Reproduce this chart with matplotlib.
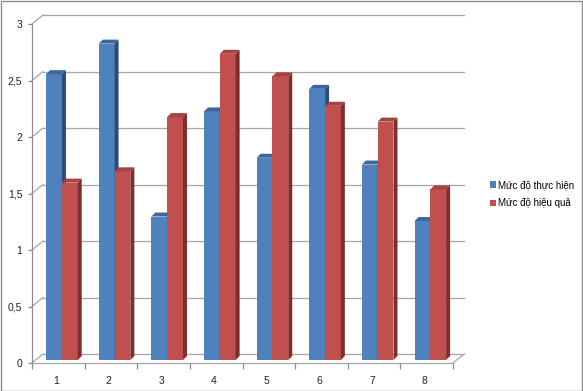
import numpy as np
import matplotlib
matplotlib.use("Agg")
import matplotlib.pyplot as plt
from matplotlib.patches import Polygon, Rectangle, Patch

# Donnees
categories = ["1", "2", "3", "4", "5", "6", "7", "8"]
thuc_hien = [2.53, 2.80, 1.27, 2.20, 1.79, 2.40, 1.73, 1.23]
hieu_qua = [1.57, 1.67, 2.15, 2.71, 2.51, 2.25, 2.11, 1.51]
series_names = ["Mức độ thực hiện", "Mức độ hiệu quả"]
y_ticks = [0, 0.5, 1, 1.5, 2, 2.5, 3]
y_labels = ["0", "0,5", "1", "1,5", "2", "2,5", "3"]

# couleurs style Excel 2007 (face, dessus, cote)
colors = {
    "blue": ("#4F81BD", "#3D679C", "#2C4D75"),
    "red": ("#C0504D", "#A54340", "#7E2F2D"),
}
grid_col = "#A6A6A6"
axis_col = "#8C8C8C"

plt.rcParams["font.family"] = ["Liberation Sans", "DejaVu Sans"]

W, H = 583, 391
fig = plt.figure(figsize=(W / 100, H / 100), dpi=100)
fig.patches.append(Rectangle((0.001, 0.001), 0.997, 0.996, transform=fig.transFigure,
                             fill=False, edgecolor="#8C8C8C", linewidth=1))

# plan avant : x de 32 a 453 px, y=0 a 363 px, y=3 a 24 px
ax = fig.add_axes([32 / W, (H - 363) / H, 421 / W, (363 - 24) / H])
n = len(categories)
ax.set_xlim(0.5, n + 0.5)
ax.set_ylim(0, 3)
for s in ax.spines.values():
    s.set_visible(False)

px_x = n / 421.0
px_y = 3 / 339.0
dxw, dyw = 11 * px_x, 9 * px_y    # profondeur des murs
dxb, dyb = 4 * px_x, 4 * px_y     # profondeur des barres
f = 0.33                          # position des barres dans la profondeur

x0, x1 = 0.5, n + 0.5
# murs : grille arriere + diagonales du mur gauche
for v in y_ticks:
    ax.plot([x0 + dxw, x1 + dxw], [v + dyw, v + dyw], color=grid_col, lw=0.9, zorder=1, clip_on=False)
    ax.plot([x0, x0 + dxw], [v, v + dyw], color=grid_col, lw=0.9, zorder=1, clip_on=False)
# sol
ax.plot([x0, x1], [0, 0], color=grid_col, lw=0.9, zorder=1, clip_on=False)
ax.plot([x1, x1 + dxw], [0, dyw], color=grid_col, lw=0.9, zorder=1, clip_on=False)
# axe vertical
ax.plot([x0, x0], [0, 3], color=axis_col, lw=0.9, zorder=2, clip_on=False)

x = np.arange(1, n + 1)
w = 0.3
ox, oy = f * dxw, f * dyw


def bar3d(xc, vals, cols):
    front, top, side = cols
    ax.bar(xc + ox, vals, width=w, bottom=oy, color=front, zorder=3, linewidth=0)
    for xi, v in zip(xc, vals):
        l, r = xi + ox - w / 2, xi + ox + w / 2
        b, t = oy, v + oy
        ax.add_patch(Polygon([[l, t], [r, t], [r + dxb, t + dyb], [l + dxb, t + dyb]],
                             closed=True, facecolor=top, edgecolor="none", zorder=3, clip_on=False))
        ax.add_patch(Polygon([[r, b], [r + dxb, b + dyb], [r + dxb, t + dyb], [r, t]],
                             closed=True, facecolor=side, edgecolor="none", zorder=3, clip_on=False))


bar3d(x - w / 2, thuc_hien, colors["blue"])
bar3d(x + w / 2, hieu_qua, colors["red"])

ax.set_yticks(y_ticks)
ax.set_yticklabels(y_labels)
ax.set_xticks(x - 0.04)
ax.set_xticklabels(categories)
ax.set_xticks(np.arange(0.5, n + 1), minor=True)
ax.tick_params(axis="x", which="major", length=0, pad=9, labelsize=7.5, labelcolor="#222222")
ax.tick_params(axis="x", which="minor", length=4, color=axis_col, width=0.9)
ax.tick_params(axis="y", length=3, color=axis_col, width=0.9, pad=4, labelsize=7.5, labelcolor="#222222")

handles = [Patch(facecolor=colors["blue"][0], label=series_names[0]),
           Patch(facecolor=colors["red"][0], label=series_names[1])]
fig.legend(handles=handles, loc="center left", bbox_to_anchor=(481 / W, 1 - 194 / H),
           frameon=False, fontsize=7, handlelength=0.6, handleheight=0.6,
           handletextpad=0.3, labelspacing=0.85)

fig.savefig("out.png", dpi=100)
